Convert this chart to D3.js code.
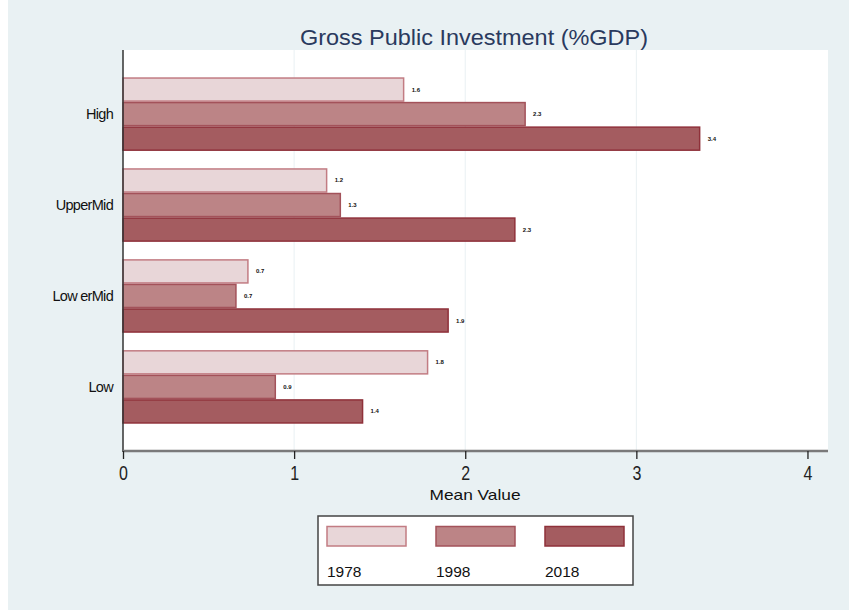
<!DOCTYPE html>
<html><head><meta charset="utf-8">
<script src="https://cdn.jsdelivr.net/npm/d3@7"></script>
<style>body{margin:0;background:#fff}svg{display:block}</style>
</head><body>
<svg id="c" width="849" height="610"></svg>
<script>
const categories = ["High", "UpperMid", "Low erMid", "Low"];
const years = ["1978", "1998", "2018"];
const v1978 = [1.64, 1.19, 0.73, 1.78];
const v1998 = [2.35, 1.27, 0.66, 0.89];
const v2018 = [3.37, 2.29, 1.90, 1.40];
const labels1978 = ["1.6", "1.2", "0.7", "1.8"];
const labels1998 = ["2.3", "1.3", "0.7", "0.9"];
const labels2018 = ["3.4", "2.3", "1.9", "1.4"];
const xTicks = [0, 1, 2, 3, 4];

const series = [
  {year: years[0], vals: v1978, labs: labels1978, fill: "#e8d6d8", stroke: "#c27c83"},
  {year: years[1], vals: v1998, labs: labels1998, fill: "#bc8486", stroke: "#a3525a"},
  {year: years[2], vals: v2018, labs: labels2018, fill: "#a45c60", stroke: "#8f313a"}
];

const svg = d3.select("#c");
const font = "'Liberation Sans', Arial, sans-serif";
svg.append("rect").attr("x", 8).attr("y", 0).attr("width", 841).attr("height", 610).attr("fill", "#e9f1f3");

const L = 123, R = 828, T = 50, B = 451;
svg.append("rect").attr("x", L).attr("y", T).attr("width", R - L).attr("height", B - T).attr("fill", "#fff");

const x = d3.scaleLinear().domain([0, 4.12]).range([L, R]);
const y = d3.scaleBand().domain(categories).range([T, B]).paddingInner(0.19).paddingOuter(0.3);
const yi = d3.scaleBand().domain(years).range([0, y.bandwidth()]);

// gridlines
svg.append("g").selectAll("line").data(xTicks.filter(d => d > 0 && d < 4)).join("line")
  .attr("x1", d => x(d)).attr("x2", d => x(d)).attr("y1", T).attr("y2", B)
  .attr("stroke", "#e9f0f3").attr("stroke-width", 1);

// bars
series.forEach(s => {
  const g = svg.append("g");
  g.selectAll("rect").data(categories).join("rect")
    .attr("x", x(0)).attr("y", (c) => y(c) + yi(s.year) + 0.75)
    .attr("width", (c, i) => x(s.vals[i]) - x(0)).attr("height", yi.bandwidth() - 1.5)
    .attr("fill", s.fill).attr("stroke", s.stroke).attr("stroke-width", 1.5);
  g.selectAll("text").data(categories).join("text")
    .attr("x", (c, i) => x(s.vals[i]) + 8).attr("y", c => y(c) + yi(s.year) + yi.bandwidth() / 2 + 2)
    .attr("font-family", font).attr("font-size", 6).attr("font-weight", "bold").attr("fill", "#111")
    .text((c, i) => s.labs[i]);
});

// y axis
svg.append("line").attr("x1", L).attr("x2", L).attr("y1", T).attr("y2", B + 1)
  .attr("stroke", "#333").attr("stroke-width", 1.5);
svg.append("g").selectAll("text").data(categories).join("text")
  .attr("x", 113).attr("y", c => y(c) + y.bandwidth() / 2 + 5)
  .attr("text-anchor", "end").attr("font-family", font).attr("font-size", 14.5).attr("fill", "#111")
  .attr("letter-spacing", -0.7)
  .text(c => c);

// x axis
const xa = svg.append("g").attr("transform", `translate(0,${B})`)
  .call(d3.axisBottom(x).tickValues(xTicks).tickSize(8).tickFormat(d3.format("d")));
xa.select(".domain").attr("stroke", "#7a7a7a").attr("stroke-width", 2.5).attr("d", `M${L},0H${R}`);
xa.selectAll(".tick line").attr("stroke", "#222").attr("stroke-width", 1.3);
xa.selectAll(".tick text").attr("font-family", font).attr("font-size", 20.5).attr("fill", "#222")
  .attr("x", 0).attr("dy", "0.71em").attr("y", 14).attr("transform", "scale(0.78,1)");

svg.append("text").attr("x", 475).attr("y", 500).attr("text-anchor", "middle")
  .attr("font-family", font).attr("font-size", 14.5).attr("fill", "#111")
  .attr("textLength", 91).attr("lengthAdjust", "spacingAndGlyphs").text("Mean Value");

// title
svg.append("text").attr("x", 474).attr("y", 45).attr("text-anchor", "middle")
  .attr("font-family", font).attr("font-size", 22).attr("fill", "#2a3a5e")
  .attr("textLength", 348).attr("lengthAdjust", "spacingAndGlyphs").text("Gross Public Investment (%GDP)");

// legend
const lg = svg.append("g");
lg.append("rect").attr("x", 318).attr("y", 516).attr("width", 315).attr("height", 69)
  .attr("fill", "#fff").attr("stroke", "#444").attr("stroke-width", 1.5);
const lx = [327, 436, 545];
series.forEach((s, i) => {
  lg.append("rect").attr("x", lx[i]).attr("y", 526.5).attr("width", 79).attr("height", 19.5)
    .attr("fill", s.fill).attr("stroke", s.stroke).attr("stroke-width", 1.5);
  lg.append("text").attr("x", lx[i]).attr("y", 577).attr("font-family", font).attr("font-size", 15.5)
    .attr("fill", "#111").text(s.year);
});
</script>
</body></html>
